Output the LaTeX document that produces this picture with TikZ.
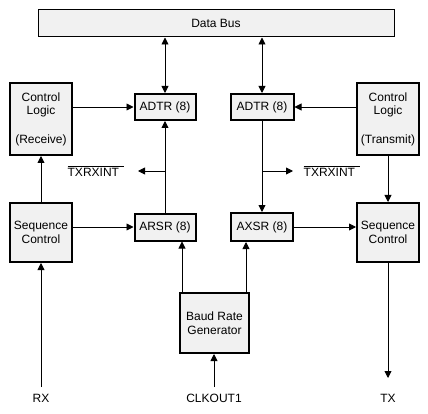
\documentclass[tikz,border=0pt]{standalone}
\usepackage{fontspec}
\setmainfont{Liberation Sans}
\usepackage{tikz}
\usetikzlibrary{positioning}
\usetikzlibrary{arrows.meta}
\usetikzlibrary{calc}
\definecolor{boxgray}{RGB}{241,241,241}
\tikzset{block/.style={draw,line width=2pt,fill=boxgray,align=center,inner sep=0pt,font=\fontsize{12}{13.5}\selectfont},
         bus node/.style={block,line width=1pt},
         sig/.style={font=\fontsize{12}{13.5}\selectfont,inner sep=0pt},}

\begin{document}
\begin{tikzpicture}[x=1pt, y=-1pt, >={Triangle[length=7pt,width=7pt]}, line width=0.9pt]
	\useasboundingbox (0,0) rectangle (428,414);
	\node[bus node, minimum width=356pt, minimum height=27pt] (bus) at (216,23.5) {Data Bus};
	\node[block, minimum width=62pt, minimum height=72pt] (clr) at (41,119) {Control\\Logic\\[15pt](Receive)};
	\node[block, minimum width=62pt, minimum height=72pt] (clt) at (388,119) {Control\\Logic\\[15pt](Transmit)};
	\node[block, minimum width=61pt, minimum height=26pt] (adtrl) at (165,107) {ADTR (8)};
	\node[block, minimum width=63pt, minimum height=26pt] (adtrr) at (262,107) {ADTR (8)};
	\node[block, minimum width=62pt, minimum height=59pt] (seql) at (41,232.5) {Sequence\\Control};
	\node[block, minimum width=62pt, minimum height=59pt] (seqt) at (388,232.5) {Sequence\\Control};
	\node[block, minimum width=61pt, minimum height=27pt] (arsr) at (165,227) {ARSR (8)};
	\node[block, minimum width=62pt, minimum height=28pt] (axsr) at (262,227) {AXSR (8)};
	\node[block, minimum width=69pt, minimum height=60pt] (brg) at (214.5,323) {Baud Rate\\Generator};

	\node[sig] (intl) at (96,171) {$\overline{\mbox{TXRXINT\ \,}}$};
	\node[sig] (intr) at (332,171) {$\overline{\mbox{TXRXINT\ \,}}$};
	\node[sig] (rx) at (41,398) {RX};
	\node[sig] (clk) at (214,398) {CLKOUT1};
	\node[sig] (tx) at (388,398) {TX};

	% free ends
	\coordinate (bl) at (165,171);
	\coordinate (br) at (262,171);
	\coordinate (intltip) at (138,171);
	\coordinate (intrtip) at (293,171);
	\coordinate (rxend) at (41,387);
	\coordinate (clkend) at (214,387);
	\coordinate (txend) at (388,378);
	\coordinate (brga) at ($(brg.north west)+(3,0)$);
	\coordinate (brgb) at ($(brg.north east)+(-4,0)$);

	\draw[<->] (adtrl.north |- bus.south) -- (adtrl.north);
	\draw[<->] (adtrr.north |- bus.south) -- (adtrr.north);
	\draw[->] (clr.east |- adtrl.west) -- (adtrl.west);
	\draw[->] (clt.west |- adtrr.east) -- (adtrr.east);
	\draw[->] (arsr.north) -- (adtrl.south);
	\draw[->] (bl) -- (intltip);
	\draw[->] (adtrr.south) -- (axsr.north);
	\draw[->] (br) -- (intrtip);
	\draw[->] (seql.north) -- (clr.south);
	\draw[->] (seql.east |- arsr.west) -- (arsr.west);
	\draw[->] (axsr.east) -- (axsr.east -| seqt.west);
	\draw[->] (clt.south) -- (seqt.north);
	\draw[->] (brga) -- (brga |- arsr.south);
	\draw[->] (brgb) -- (brgb |- axsr.south);
	\draw[->] (clkend) -- (clkend |- brg.south);
	\draw[->] (rxend) -- (seql.south);
	\draw[->] (seqt.south) -- (txend);
\end{tikzpicture}
\end{document}
